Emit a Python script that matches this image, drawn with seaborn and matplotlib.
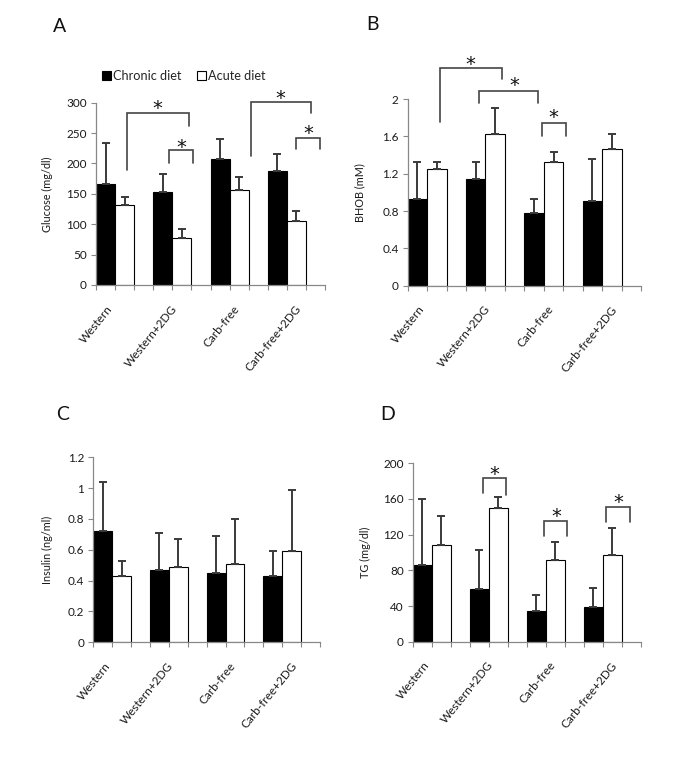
import numpy as np
import pandas as pd
import matplotlib
matplotlib.use("Agg")
import matplotlib.pyplot as plt
import matplotlib.transforms as mtransforms
import seaborn as sns
from matplotlib.patches import Patch
from matplotlib.container import BarContainer

sns.set_theme(style="white")
plt.rcParams["font.family"] = ["Lato", "DejaVu Sans"]

# ---------------- data ----------------
groups = ["Western", "Western+2DG", "Carb-free", "Carb-free+2DG"]
diets = ["Chronic diet", "Acute diet"]

glucose_chronic = [166, 153, 207, 188]
glucose_chronic_err = [68, 30, 33, 27]
glucose_acute = [131, 77, 156, 105]
glucose_acute_err = [13, 15, 21, 16]

bhob_chronic = [0.93, 1.14, 0.78, 0.91]
bhob_chronic_err = [0.40, 0.18, 0.15, 0.45]
bhob_acute = [1.25, 1.62, 1.33, 1.46]
bhob_acute_err = [0.07, 0.28, 0.10, 0.16]

insulin_chronic = [0.72, 0.47, 0.45, 0.43]
insulin_chronic_err = [0.32, 0.24, 0.24, 0.16]
insulin_acute = [0.43, 0.49, 0.51, 0.59]
insulin_acute_err = [0.10, 0.18, 0.29, 0.40]

tg_chronic = [86, 59, 34, 39]
tg_chronic_err = [74, 44, 18, 21]
tg_acute = [108, 150, 92, 97]
tg_acute_err = [33, 12, 20, 31]

glucose_ticks = [0, 50, 100, 150, 200, 250, 300]
bhob_ticks = [0, 0.4, 0.8, 1.2, 1.6, 2.0]
insulin_ticks = [0, 0.2, 0.4, 0.6, 0.8, 1.0, 1.2]
tg_ticks = [0, 40, 80, 120, 160, 200]

# significance brackets (slot units: 3 slots per group, 12 on the axis)
# (left, right, left_bottom, right_bottom, top, star_x, star_y)
glucose_brackets = [
    (1.61, 4.87, 190, 262, 282.6, 3.23, 301),
    (3.83, 5.07, 200, 200, 222, 4.45, 237),
    (8.12, 11.27, 212, 282.6, 301.6, 9.64, 317),
    (10.46, 11.74, 223, 223, 242.4, 11.13, 260),
]
bhob_brackets = [
    (1.68, 4.83, 1.75, 2.21, 2.335, 3.2, 2.436),
    (3.65, 6.69, 1.954, 1.954, 2.086, 5.47, 2.21),
    (6.89, 8.13, 1.607, 1.607, 1.74, 7.49, 1.864),
]
tg_brackets = [
    (3.70, 4.90, 167, 165, 184, 4.27, 194),
    (6.92, 8.13, 118.5, 118.5, 135, 7.53, 147.7),
    (10.16, 11.42, 134.6, 134.6, 151, 10.8, 162.6),
]

# ---------------- layout ----------------
W, H = 685, 757
label_slots = [0.55, 3.89, 7.18, 10.43]
hue_levels = diets + ["_gap"]
palette = {"Chronic diet": "black", "Acute diet": "white", "_gap": "white"}
GRAY = "#888888"
ERR = "#3a3a3a"
STAR_FS = 14

fig = plt.figure(figsize=(W / 100, H / 100), dpi=100)


def rect(left, top, right, bottom):
    return [left / W, 1 - bottom / H, (right - left) / W, (bottom - top) / H]


def s2x(s):
    return -0.5 + s / 3.0


def panel(r, chronic, chronic_err, acute, acute_err, yticks, ylabel, ylabel_x,
          letter, letter_xy, brackets):
    ax = fig.add_axes(r)
    df = pd.DataFrame({
        "group": groups * 3,
        "diet": [d for d in hue_levels for _ in groups],
        "value": list(chronic) + list(acute) + [np.nan] * len(groups),
    })
    sns.barplot(data=df, x="group", y="value", hue="diet", order=groups,
                hue_order=hue_levels, palette=palette, width=1.0, gap=0,
                errorbar=None, edgecolor="black", linewidth=0.8,
                saturation=1, legend=False, ax=ax, zorder=2)
    errs = {"Chronic diet": chronic_err, "Acute diet": acute_err}
    bar_conts = [c for c in ax.containers if isinstance(c, BarContainer)]
    for cont in bar_conts:
        bars = [b for b in cont.patches if np.isfinite(b.get_height())]
        if not bars:
            continue
        fc = bars[0].get_facecolor()
        key = "Chronic diet" if fc[0] < 0.5 else "Acute diet"
        bars = sorted(bars, key=lambda b: b.get_x())
        xs = [b.get_x() + b.get_width() / 2 for b in bars]
        hs = [b.get_height() for b in bars]
        e = errs[key]
        ax.errorbar(xs, hs, yerr=[np.zeros(len(e)), e], fmt="none",
                    ecolor=ERR, elinewidth=1.4, capsize=2.8, capthick=1.4,
                    zorder=3)
    ax.set_xlim(-0.5, len(groups) - 0.5)
    ax.set_ylim(yticks[0], yticks[-1])
    ax.set_yticks(yticks)
    ax.set_yticklabels([f"{t:g}" for t in yticks])
    ax.set_xticks([s2x(s) for s in label_slots])
    ax.set_xticklabels(groups)
    ax.set_xticks([s2x(k) for k in range(13)], minor=True)
    for t in ax.get_xticklabels():
        t.set_rotation(51)
        t.set_ha("right")
        t.set_va("top")
        t.set_rotation_mode("anchor")
    ax.tick_params(axis="x", which="major", length=0, pad=13, labelsize=8.5,
                   labelcolor="#1a1a1a")
    ax.tick_params(axis="x", which="minor", bottom=True, length=3.5,
                   width=0.8, color=GRAY, direction="out")
    ax.tick_params(axis="y", which="major", left=True, length=3.5, width=0.8,
                   color=GRAY, direction="out", labelsize=8.5, pad=3,
                   labelcolor="#1a1a1a")
    ax.set_xlabel("")
    ax.set_ylabel("")
    ax.text(ylabel_x, 0.5, ylabel, rotation=90, ha="center", va="center",
            fontsize=7.8, color="#1a1a1a", transform=ax.transAxes)
    for side in ("top", "right"):
        ax.spines[side].set_visible(False)
    for side in ("left", "bottom"):
        ax.spines[side].set_color(GRAY)
        ax.spines[side].set_linewidth(0.9)
    star_tr = mtransforms.offset_copy(ax.transData, fig=fig,
                                      y=-0.6 * STAR_FS, units="points")
    for (l, rr, lb, rb, top, sx, sy) in brackets:
        ax.plot([s2x(l), s2x(l), s2x(rr), s2x(rr)], [lb, top, top, rb],
                color="#444444", lw=1.2, clip_on=False, zorder=4,
                solid_joinstyle="miter")
        ax.text(s2x(sx), sy, "*", ha="center", va="baseline",
                fontsize=STAR_FS, family="DejaVu Sans", color="#111111",
                clip_on=False, transform=star_tr)
    fig.text(letter_xy[0] / W, 1 - letter_xy[1] / H, letter, ha="center",
             va="center", fontsize=14, color="#111111")
    return ax


axA = panel(rect(96, 102.7, 325, 285), glucose_chronic, glucose_chronic_err,
            glucose_acute, glucose_acute_err, glucose_ticks,
            "Glucose (mg/dl)", -0.214, "A", (60, 27), glucose_brackets)
axB = panel(rect(407.7, 99, 641, 285.7), bhob_chronic, bhob_chronic_err,
            bhob_acute, bhob_acute_err, bhob_ticks,
            "BHOB (mM)", -0.204, "B", (372, 25), bhob_brackets)
axC = panel(rect(93.3, 457.3, 320, 642.3), insulin_chronic,
            insulin_chronic_err, insulin_acute, insulin_acute_err,
            insulin_ticks, "Insulin (ng/ml)", -0.203, "C", (63, 415), [])
axD = panel(rect(412.7, 463.3, 641, 641.7), tg_chronic, tg_chronic_err,
            tg_acute, tg_acute_err, tg_ticks,
            "TG (mg/dl)", -0.209, "D", (388, 415), tg_brackets)

handles = [Patch(facecolor="black", edgecolor="black", linewidth=0.8),
           Patch(facecolor="white", edgecolor="black", linewidth=0.8)]
axA.legend(handles, diets, ncol=2, loc="center left",
           bbox_to_anchor=(0.025, 1.146), frameon=False, fontsize=9.2,
           handlelength=0.7, handleheight=0.7, handletextpad=0.2,
           columnspacing=1.2, borderaxespad=0, borderpad=0)

fig.savefig("out.png", dpi=100, facecolor="white")
